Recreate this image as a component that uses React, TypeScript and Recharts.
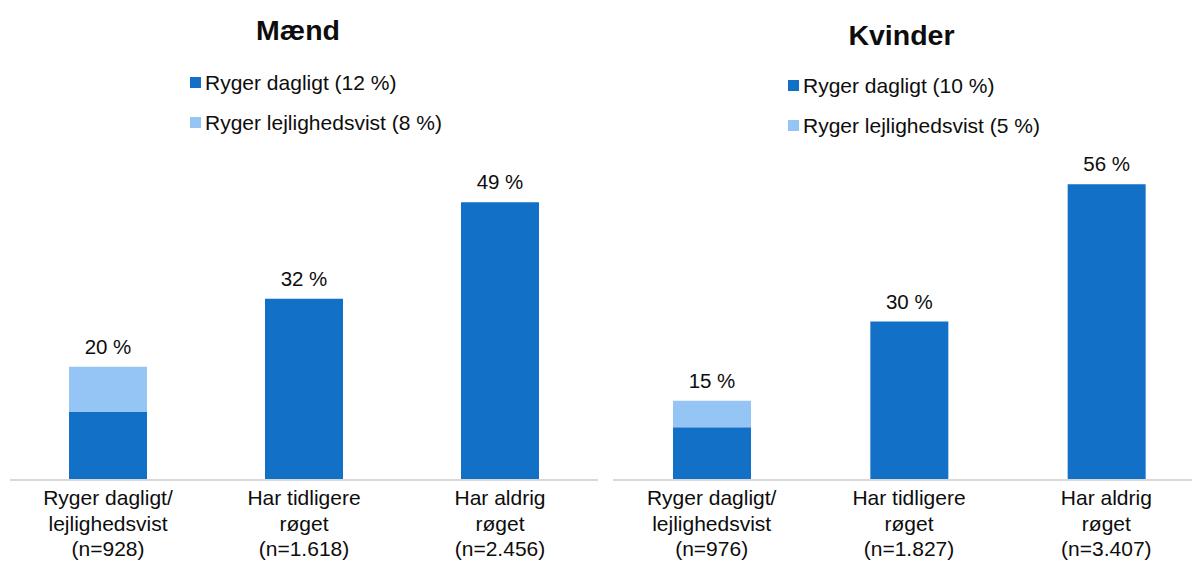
import { BarChart, Bar, XAxis, YAxis, Legend, LabelList } from "recharts";

const FONT = '"Liberation Sans", Arial, sans-serif';
const DARK = "#1270c6";
const LIGHT = "#94c5f5";
const TEXT = "#0d0d0d";

// category labels (without the n=… line)
const CATEGORY_KEYS = ["daglig", "tidligere", "aldrig"];
const CATEGORY_LINES = [
  ["Ryger dagligt/", "lejlighedsvist"],
  ["Har tidligere", "røget"],
  ["Har aldrig", "røget"],
];

const MEN_N = ["928", "1.618", "2.456"];
const MEN_DARK = [12, 32, 49];
const MEN_LIGHT = [8, 0, 0];
const MEN_LEGEND = ["Ryger dagligt (12 %)", "Ryger lejlighedsvist (8 %)"];

const WOMEN_N = ["976", "1.827", "3.407"];
const WOMEN_DARK = [10, 30, 56];
const WOMEN_LIGHT = [5, 0, 0];
const WOMEN_LEGEND = ["Ryger dagligt (10 %)", "Ryger lejlighedsvist (5 %)"];

const buildRows = (dark: number[], light: number[]) =>
  CATEGORY_KEYS.map((key, i) => ({ key, dark: dark[i], light: light[i], total: dark[i] + light[i] }));

type Row = ReturnType<typeof buildRows>[number];

const CategoryTick = ({ x = 0, y = 0, payload, nLabels }: any) => {
  const idx = CATEGORY_KEYS.indexOf(payload?.value);
  if (idx < 0) return null;
  const lines = [...CATEGORY_LINES[idx], `(n=${nLabels[idx]})`];
  return (
    <text x={x} y={y + 25} textAnchor="middle" fontSize={21} fontFamily={FONT} fill={TEXT}>
      {lines.map((l, i) => (
        <tspan key={i} x={x} dy={i === 0 ? 0 : 25.5}>
          {l}
        </tspan>
      ))}
    </text>
  );
};

// total label above the top of each stack; `onTop` tells which segment carries it
const totalLabel = (rows: Row[], onTop: boolean) => (props: any) => {
  const { x = 0, y = 0, width = 0, index = 0 } = props;
  const row = rows[index];
  if (!row) return null;
  if ((row.light > 0) !== onTop) return null;
  return (
    <text x={x + width / 2} y={y - 13} textAnchor="middle" fontSize={20.5} fontFamily={FONT} fill={TEXT}>
      {`${row.total} %`}
    </text>
  );
};

const LegendBox = ({ labels }: { labels: string[] }) => (
  <div style={{ fontFamily: FONT, fontSize: 21, color: TEXT }}>
    {labels.map((l, i) => (
      <div key={l} style={{ height: 40, lineHeight: "40px", display: "flex", alignItems: "center", whiteSpace: "nowrap" }}>
        <span style={{ width: 11, height: 11, background: i === 0 ? DARK : LIGHT, marginRight: 4, flex: "none" }} />
        {l}
      </div>
    ))}
  </div>
);

interface PanelProps {
  title: string;
  titleX: number;
  titleTop: number;
  rows: Row[];
  nLabels: string[];
  legend: string[];
  legendPos: { left: number; top: number };
  left: number;
  width: number;
  marginTop: number;
  marginLeft: number;
}

const Panel = ({ title, titleX, titleTop, rows, nLabels, legend, legendPos, left, width, marginTop, marginLeft }: PanelProps) => (
  <div style={{ position: "absolute", left, top: 0, width, height: 567 }}>
    <div
      style={{
        position: "absolute",
        left: titleX,
        top: titleTop,
        transform: "translateX(-50%)",
        fontFamily: FONT,
        fontWeight: 700,
        fontSize: 28.5,
        lineHeight: "28px",
        color: TEXT,
        whiteSpace: "nowrap",
      }}
    >
      {title}
    </div>
    <BarChart width={width} height={567} data={rows} margin={{ top: marginTop, right: 2, left: marginLeft, bottom: 0 }} barSize={78}>
      <XAxis
        dataKey="key"
        interval={0}
        tickLine={false}
        tickSize={0}
        tickMargin={0}
        height={87}
        axisLine={{ stroke: "#d9d9d9", strokeWidth: 2 }}
        tick={<CategoryTick nLabels={nLabels} />}
      />
      <YAxis hide domain={[0, 60]} />
      <Legend
        layout="vertical"
        align="center"
        verticalAlign="middle"
        wrapperStyle={{ left: legendPos.left, top: legendPos.top, width: "auto" }}
        content={() => <LegendBox labels={legend} />}
      />
      <Bar dataKey="dark" stackId="a" fill={DARK} isAnimationActive={false}>
        <LabelList dataKey="total" content={totalLabel(rows, false)} />
      </Bar>
      <Bar dataKey="light" stackId="a" fill={LIGHT} isAnimationActive={false}>
        <LabelList dataKey="total" content={totalLabel(rows, true)} />
      </Bar>
    </BarChart>
  </div>
);

export default function App() {
  return (
    <div style={{ position: "absolute", left: 0, top: 0, width: 1192, height: 567, overflow: "hidden", background: "#fff" }}>
      <Panel
        title="Mænd"
        titleX={298}
        titleTop={16.3}
        rows={buildRows(MEN_DARK, MEN_LIGHT)}
        nLabels={MEN_N}
        legend={MEN_LEGEND}
        legendPos={{ left: 190, top: 62.7 }}
        left={0}
        width={600}
        marginTop={140}
        marginLeft={10}
      />
      <Panel
        title="Kvinder"
        titleX={301.5}
        titleTop={20.6}
        rows={buildRows(WOMEN_DARK, WOMEN_LIGHT)}
        nLabels={WOMEN_N}
        legend={WOMEN_LEGEND}
        legendPos={{ left: 188, top: 65.7 }}
        left={600}
        width={607}
        marginTop={163}
        marginLeft={13}
      />
    </div>
  );
}
